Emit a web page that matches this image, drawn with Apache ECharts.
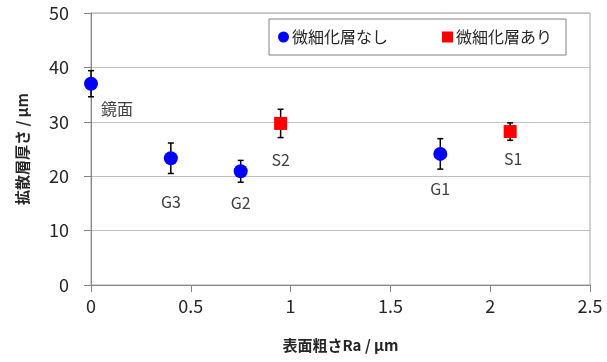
<!DOCTYPE html>
<html>
<head>
<meta charset="utf-8">
<script src="https://cdn.jsdelivr.net/npm/echarts@6/dist/echarts.min.js"></script>
<style>
html, body { margin: 0; padding: 0; background: #fff; }
#main { width: 607px; height: 362px; }
</style>
</head>
<body>
<div id="main"></div>
<script>
// 微細化層なし
var raNone = [0, 0.4, 0.75, 1.75];
var thickNone = [37.0, 23.3, 20.9, 24.1];
var errNone = [2.4, 2.8, 2.0, 2.8];
var namesNone = ['鏡面', 'G3', 'G2', 'G1'];
// 微細化層あり
var raFine = [0.95, 2.1];
var thickFine = [29.7, 28.2];
var errFine = [2.6, 1.6];
var namesFine = ['S2', 'S1'];

var seriesNames = ['微細化層なし', '微細化層あり'];
var xTicks = { min: 0, max: 2.5, interval: 0.5 };
var yTicks = { min: 0, max: 50, interval: 10 };

// ラベル位置（点からのずらし量）
var labelShift = {
    '鏡面': [26, 25], 'G3': [0, 44], 'G2': [0, 32], 'G1': [0, 35],
    'S2': [0, 36], 'S1': [3, 27]
};

var FONT = '"Noto Sans CJK JP", "Noto Sans", sans-serif';
var chart = echarts.init(document.getElementById('main'));

function points(xs, ys, errs, names) {
    var d = [];
    for (var i = 0; i < xs.length; i++) {
        d.push({
            name: names[i],
            value: [xs[i], ys[i], ys[i] - errs[i], ys[i] + errs[i]],
            label: { offset: labelShift[names[i]] }
        });
    }
    return d;
}

function errorBar(params, api) {
    var lo = api.coord([api.value(0), api.value(2)]);
    var hi = api.coord([api.value(0), api.value(3)]);
    var w = 3;
    var st = { stroke: '#000', lineWidth: 1.5 };
    return {
        type: 'group',
        children: [
            { type: 'line', shape: { x1: lo[0], y1: lo[1], x2: hi[0], y2: hi[1] }, style: st },
            { type: 'line', shape: { x1: lo[0] - w, y1: lo[1], x2: lo[0] + w, y2: lo[1] }, style: st },
            { type: 'line', shape: { x1: hi[0] - w, y1: hi[1], x2: hi[0] + w, y2: hi[1] }, style: st }
        ]
    };
}

var dataNone = points(raNone, thickNone, errNone, namesNone);
var dataFine = points(raFine, thickFine, errFine, namesFine);

var pointLabel = {
    show: true,
    position: 'inside',
    formatter: '{b}',
    color: '#404040',
    fontSize: 16,
    fontFamily: FONT
};

var option = {
    backgroundColor: '#fff',
    animation: false,
    textStyle: { fontFamily: FONT },
    grid: {
        left: 91, right: 17, top: 13, bottom: 77,
        show: true, borderColor: '#a6a6a6', borderWidth: 1
    },
    legend: {
        data: [
            { name: seriesNames[0], icon: 'circle' },
            { name: seriesNames[1], icon: 'rect' }
        ],
        left: 269, top: 19,
        padding: [10, 14, 10, 9],
        itemGap: 54,
        itemWidth: 11, itemHeight: 11,
        borderColor: '#808080', borderWidth: 1,
        textStyle: { fontSize: 16, color: '#262626', fontFamily: FONT, padding: [0, 0, 0, -2] }
    },
    xAxis: {
        type: 'value',
        min: xTicks.min, max: xTicks.max, interval: xTicks.interval,
        name: '表面粗さRa / μm',
        nameLocation: 'middle',
        nameGap: 53,
        nameTextStyle: { fontSize: 15, fontWeight: 'bold', color: '#262626', fontFamily: FONT },
        axisLine: { show: true, lineStyle: { color: '#868686' } },
        axisTick: { show: true, length: 7, lineStyle: { color: '#868686' } },
        axisLabel: { fontSize: 18, color: '#262626', margin: 12, fontFamily: FONT },
        splitLine: { show: false }
    },
    yAxis: {
        type: 'value',
        min: yTicks.min, max: yTicks.max, interval: yTicks.interval,
        name: '拡散層厚さ / μm',
        nameLocation: 'middle',
        nameGap: 61,
        nameTextStyle: { fontSize: 15, fontWeight: 'bold', color: '#262626', fontFamily: FONT },
        axisLine: { show: true, lineStyle: { color: '#868686' } },
        axisTick: { show: true, length: 7, lineStyle: { color: '#868686' } },
        axisLabel: { fontSize: 18, color: '#262626', margin: 22, fontFamily: FONT },
        splitLine: { show: true, lineStyle: { color: '#c0c0c0' } }
    },
    series: [
        {
            type: 'custom', name: 'err1', renderItem: errorBar,
            data: dataNone.map(function (d) { return d.value; }), z: 2, silent: true
        },
        {
            type: 'custom', name: 'err2', renderItem: errorBar,
            data: dataFine.map(function (d) { return d.value; }), z: 2, silent: true
        },
        {
            name: seriesNames[0], type: 'scatter', symbol: 'circle', symbolSize: 14,
            itemStyle: { color: '#0000ff', opacity: 1 },
            label: pointLabel, z: 3,
            data: dataNone
        },
        {
            name: seriesNames[1], type: 'scatter', symbol: 'rect', symbolSize: 13,
            itemStyle: { color: '#ff0000', opacity: 1 },
            label: pointLabel, z: 3,
            data: dataFine
        }
    ]
};
chart.setOption(option);
</script>
</body>
</html>
